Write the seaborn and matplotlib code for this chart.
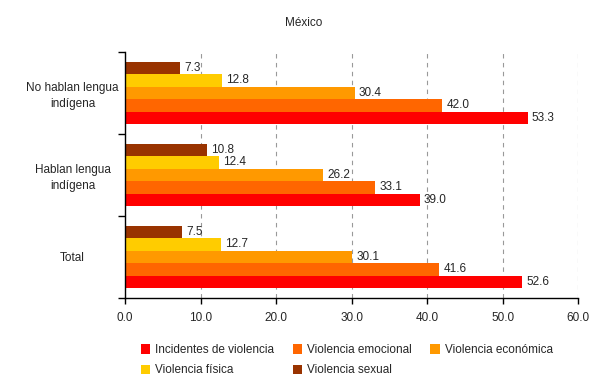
import pandas as pd
import numpy as np
import matplotlib.pyplot as plt
import seaborn as sns
from matplotlib.patches import Patch

# data
grupos = ['No hablan lengua\nindígena', 'Hablan lengua\nindígena', 'Total']
tipos = ['Incidentes de violencia', 'Violencia emocional', 'Violencia económica',
         'Violencia física', 'Violencia sexual']
incidentes = [53.3, 39.0, 52.6]
emocional = [42.0, 33.1, 41.6]
economica = [30.4, 26.2, 30.1]
fisica = [12.8, 12.4, 12.7]
sexual = [7.3, 10.8, 7.5]
colores = ['#FF0000', '#FF6600', '#FF9900', '#FFCC00', '#993300']

series = [incidentes, emocional, economica, fisica, sexual]
rows = []
for t, vals in zip(tipos, series):
    for g, v in zip(grupos, vals):
        rows.append({'grupo': g, 'tipo': t, 'valor': v})
df = pd.DataFrame(rows)

sns.set_style('white')
plt.rcParams['font.family'] = ['Liberation Sans', 'DejaVu Sans']
plt.rcParams['font.size'] = 8.5

fig = plt.figure(figsize=(6.08, 3.87), dpi=100)
ax = fig.add_axes([0.206, 0.230, 0.745, 0.636])

# sexual on top of each group, incidentes at the bottom
hue_order = tipos[::-1]
pal = dict(zip(tipos, colores))
sns.barplot(data=df, y='grupo', x='valor', hue='tipo', order=grupos,
            hue_order=hue_order, palette=pal, orient='h', width=0.76,
            saturation=1, linewidth=0, ax=ax, legend=False)

for cont in ax.containers:
    ax.bar_label(cont, fmt='%.1f', padding=3, fontsize=8.5)

ax.set_xlim(0, 60)
ax.set_xticks(np.arange(0, 61, 10))
ax.set_xticklabels([f'{v:.1f}' for v in np.arange(0, 61, 10)])
ax.set_ylim(2.5, -0.5)
ax.set_yticks(range(len(grupos)))
ax.set_yticklabels(grupos, ha='center', linespacing=1.35)
ax.tick_params(axis='y', which='major', left=False, length=0, pad=38)
ax.set_yticks([-0.5, 0.5, 1.5, 2.5], minor=True)
ax.tick_params(axis='y', which='minor', left=True, length=5, width=1,
               color='black', direction='out')
ax.tick_params(axis='x', bottom=True, length=4, width=1, color='black',
               direction='out', pad=6)
ax.set_xlabel('')
ax.set_ylabel('')

ax.grid(axis='x', linestyle=(0, (4, 4)), color='#999999', linewidth=0.8)
ax.set_axisbelow(True)
for s in ['top', 'right']:
    ax.spines[s].set_visible(False)
for s in ['left', 'bottom']:
    ax.spines[s].set_color('black')
    ax.spines[s].set_linewidth(1)

fig.text(0.5, 0.94, 'México', ha='center', va='center', fontsize=8.5)

# legend filled row by row like the reference
handles = [Patch(facecolor=c, edgecolor='none') for c in colores]
orden = [0, 3, 1, 4, 2]
fig.legend([handles[i] for i in orden], [tipos[i] for i in orden],
           loc='lower center', bbox_to_anchor=(0.57, 0.0),
           ncol=3, frameon=False, fontsize=8.5, handlelength=0.8, handleheight=0.8,
           handletextpad=0.4, columnspacing=1.6, labelspacing=0.7)

plt.savefig('out.png', dpi=100)
plt.close()
